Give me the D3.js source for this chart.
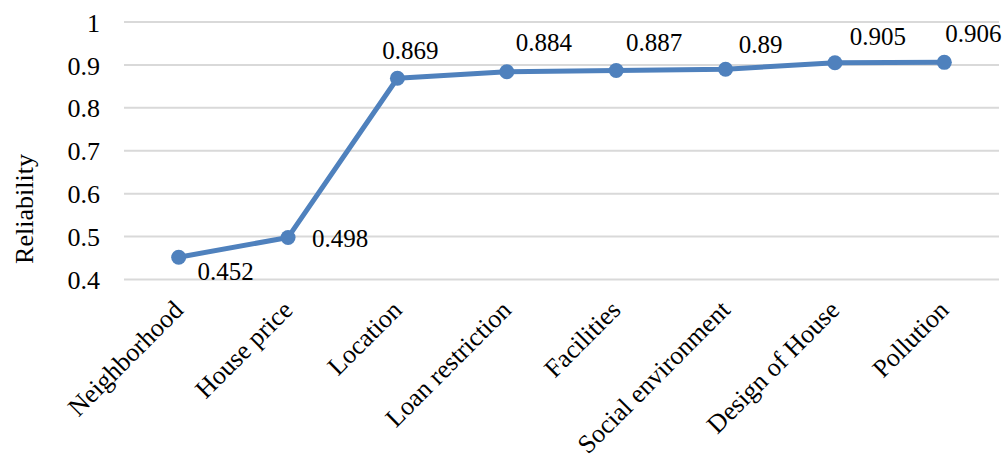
<!DOCTYPE html>
<html>
<head>
<meta charset="utf-8">
<script src="https://cdn.jsdelivr.net/npm/d3@7"></script>
<style>
  html, body { margin: 0; padding: 0; background: #ffffff; }
  svg { display: block; }
  svg text { font-family: "Liberation Serif", "Times New Roman", "DejaVu Serif", serif !important; fill: #000; }
</style>
</head>
<body>
<svg id="chart" width="1005" height="456"></svg>
<script>
// Reliability score per housing factor
const categories = ["Neighborhood", "House price", "Location", "Loan restriction",
                    "Facilities", "Social environment", "Design of House", "Pollution"];
const reliability = [0.452, 0.498, 0.869, 0.884, 0.887, 0.89, 0.905, 0.906];
const yTicks = [0.4, 0.5, 0.6, 0.7, 0.8, 0.9, 1];

// Placement of each value label relative to its point: [dx, dy]
const labelOffsets = [[47, 23], [52, 10], [13, -19], [37, -21], [38, -19], [35, -16], [43, -18], [29, -20]];

const svg = d3.select("#chart");
const plotLeft = 124, plotRight = 999, plotTop = 22, plotBottom = 279.5;
const axisFont = 26, valueFont = 25;
const serif = '"Liberation Serif", "Times New Roman", serif';

const x = d3.scaleBand().domain(categories).range([plotLeft, plotRight]);
const y = d3.scaleLinear().domain([0.4, 1]).range([plotBottom, plotTop]);
const cx = c => x(c) + x.bandwidth() / 2;

// Horizontal gridlines
svg.append("g").selectAll("line").data(yTicks).join("line")
  .attr("x1", plotLeft).attr("x2", plotRight)
  .attr("y1", d => y(d)).attr("y2", d => y(d))
  .attr("stroke", "#d9d9d9").attr("stroke-width", 2);

// Y axis tick labels
const yAxis = d3.axisLeft(y).tickValues(yTicks).tickSize(0).tickPadding(0)
  .tickFormat(d => d3.format("")(+d.toFixed(1)));
const gy = svg.append("g").attr("transform", `translate(${plotLeft - 24},0)`).call(yAxis)
  .attr("font-family", null).attr("font-size", null);
gy.select(".domain").remove();
gy.selectAll("text")
  .style("font-family", serif)
  .style("font-size", axisFont + "px")
  .attr("fill", "#000")
  .attr("dy", "0.35em");

// Y axis title
svg.append("text")
  .attr("transform", "translate(33,209) rotate(-90)")
  .attr("text-anchor", "middle")
  .style("font-family", serif)
  .style("font-size", axisFont + "px")
  .text("Reliability");

// X axis category labels (rotated)
const xAxis = d3.axisBottom(x).tickSize(0).tickPadding(0);
const gx = svg.append("g").attr("transform", `translate(0,${plotBottom})`).call(xAxis)
  .attr("font-family", null).attr("font-size", null);
gx.select(".domain").remove();
gx.selectAll(".tick text")
  .style("font-family", serif)
  .style("font-size", axisFont + "px")
  .attr("fill", "#000")
  .attr("text-anchor", "end")
  .attr("dy", null)
  .attr("y", null)
  .attr("transform", "translate(6,32) rotate(-45)");

// Line and markers
const pts = categories.map((c, i) => ({ c, v: reliability[i], i }));
const line = d3.line().x(d => cx(d.c)).y(d => y(d.v));
svg.append("path").datum(pts)
  .attr("d", line)
  .attr("fill", "none")
  .attr("stroke", "#4f81bd")
  .attr("stroke-width", 5)
  .attr("stroke-linejoin", "round");

svg.append("g").selectAll("circle").data(pts).join("circle")
  .attr("cx", d => cx(d.c)).attr("cy", d => y(d.v))
  .attr("r", 7.5).attr("fill", "#4f81bd");

// Value labels
svg.append("g").selectAll("text").data(pts).join("text")
  .attr("x", d => cx(d.c) + labelOffsets[d.i][0])
  .attr("y", d => y(d.v) + labelOffsets[d.i][1])
  .attr("text-anchor", "middle")
  .style("font-family", serif)
  .style("font-size", valueFont + "px")
  .text(d => d3.format("")(d.v));
</script>
</body>
</html>
